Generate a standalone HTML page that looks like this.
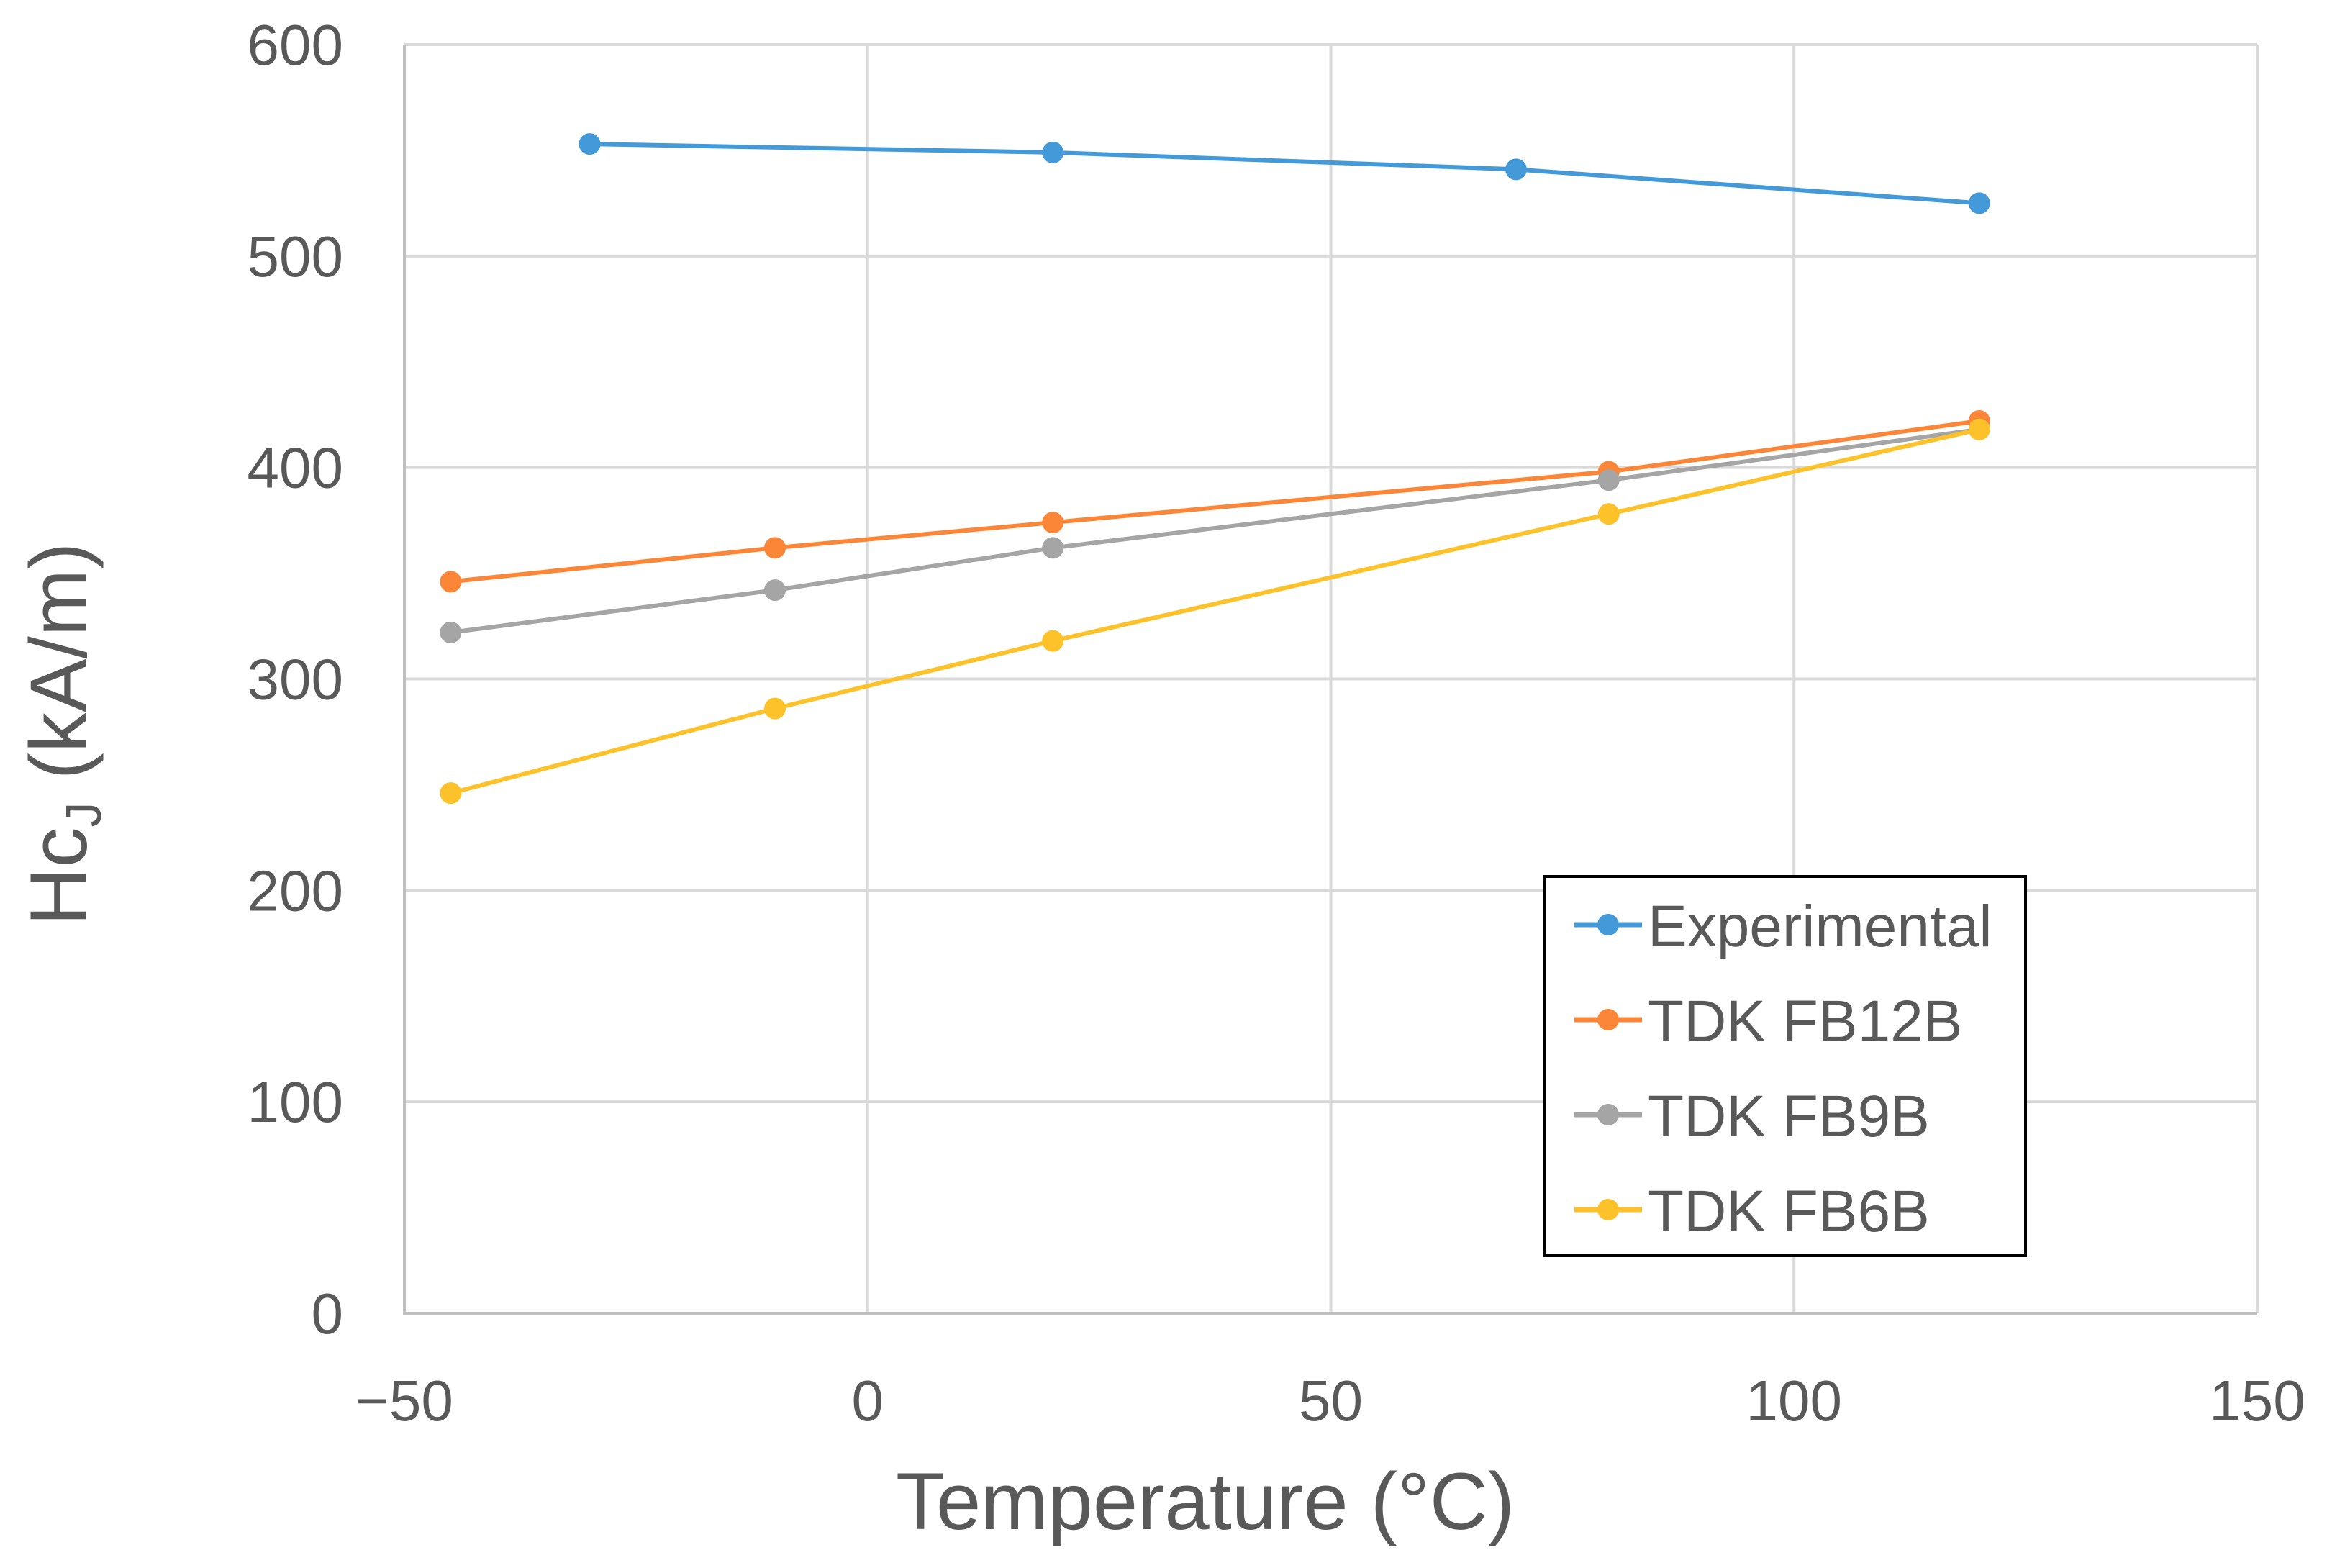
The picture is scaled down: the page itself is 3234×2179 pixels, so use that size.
<!DOCTYPE html>
<html><head><meta charset="utf-8"><style>
html,body{margin:0;padding:0;background:#fff;}
svg{display:block;font-family:"Liberation Sans",sans-serif;}
</style></head><body>
<svg id="chart" width="3234" height="2179" viewBox="0 0 3234 2179" xmlns="http://www.w3.org/2000/svg">
<g id="grid"></g>
<g id="ticks"></g>
<g id="series"></g>
<text x="1675" y="2125" text-anchor="middle" font-size="112" fill="#595959">Temperature (°C)</text>
<text transform="translate(120,1020) rotate(-90)" text-anchor="middle" font-size="112" fill="#595959">Hc<tspan font-size="70" dy="20">J</tspan><tspan dy="-20"> (kA/m)</tspan></text>
<g id="legend">
<rect x="2147" y="1218" width="668" height="527" fill="#fff" stroke="#000" stroke-width="4"/>
</g>
</svg>
<script>
const xTicks=[-50,0,50,100,150];
const yTicks=[0,100,200,300,400,500,600];
const seriesNames=["Experimental","TDK FB12B","TDK FB9B","TDK FB6B"];
const seriesColors=["#4499d8","#fb8638","#a5a5a5","#fdc22a"];
const expX=[-30,20,70,120];
const expY=[553,549,541,525];
const tdkX=[-45,-10,20,80,120];
const fb12Y=[346,362,374,398,422];
const fb9Y=[322,342,362,394,418];
const fb6Y=[246,286,318,378,418];

const NS="http://www.w3.org/2000/svg";
const L=562,R=3137,T=62,B=1825;
const sx=v=>L+(v+50)/200*(R-L);
const sy=v=>B-v/600*(B-T);
function mk(tag,attrs,parent){const e=document.createElementNS(NS,tag);for(const k in attrs)e.setAttribute(k,attrs[k]);parent.appendChild(e);return e;}
const grid=document.getElementById('grid'),ticks=document.getElementById('ticks'),ser=document.getElementById('series'),leg=document.getElementById('legend');
yTicks.forEach(v=>{
  const l=mk('line',{x1:L,x2:R,y1:sy(v),y2:sy(v),stroke:'#d9d9d9','stroke-width':4},grid);
  
  
  const t=mk('text',{x:477,y:sy(v)+28,'text-anchor':'end','font-size':80,fill:'#595959'},ticks);
  t.textContent=v;
  
  
});
xTicks.forEach(v=>{
  const l=mk('line',{x1:sx(v),x2:sx(v),y1:T,y2:B,stroke:'#d9d9d9','stroke-width':4},grid);
  
  
  const t=mk('text',{x:sx(v),y:1974,'text-anchor':'middle','font-size':80,fill:'#595959'},ticks);
  t.textContent=(v<0?'\u2212'+(-v):v);
  
  
});
const ax=mk('path',{d:`M${L} ${T}V${B}H${R}`,fill:'none',stroke:'#bfbfbf','stroke-width':4},grid);


const data=[[expX,expY],[tdkX,fb12Y],[tdkX,fb9Y],[tdkX,fb6Y]];
data.forEach((d,i)=>{
  const g=mk('g',{},ser);
  
  
  const pts=d[0].map((x,j)=>sx(x)+','+sy(d[1][j])).join(' ');
  const pl=mk('polyline',{points:pts,fill:'none',stroke:seriesColors[i],'stroke-width':6},g);
  
  
  d[0].forEach((x,j)=>{
    const c=mk('circle',{cx:sx(x),cy:sy(d[1][j]),r:15,fill:seriesColors[i]},g);
    
    
  });
  const y=1285+i*132;
  const lg=mk('g',{},leg);
  
  
  mk('line',{x1:2188,x2:2282,y1:y,y2:y,stroke:seriesColors[i],'stroke-width':7},lg);
  mk('circle',{cx:2235,cy:y,r:15,fill:seriesColors[i]},lg);
  const t=mk('text',{x:2290,y:y+30,'font-size':82,fill:'#595959'},lg);
  t.textContent=seriesNames[i];
});
</script>
</body></html>
